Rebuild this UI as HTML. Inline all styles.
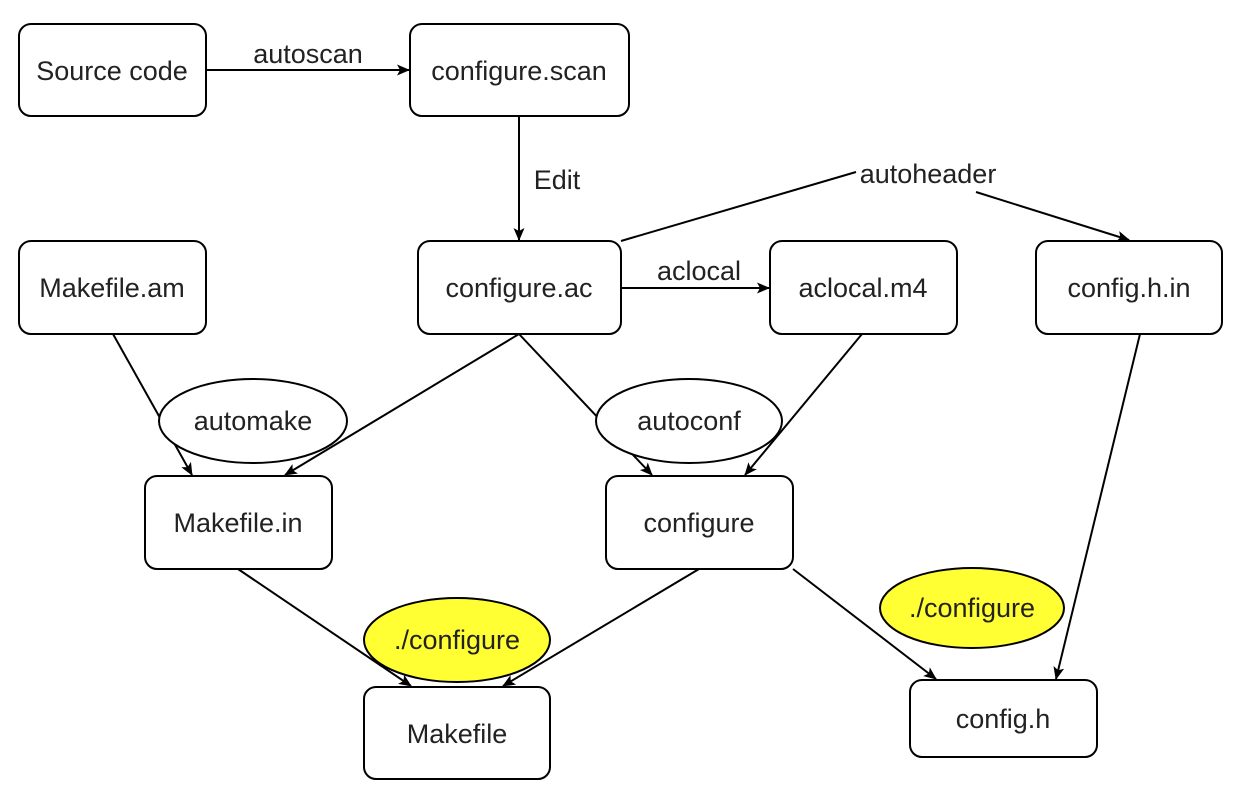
<!DOCTYPE html>
<html><head><meta charset="utf-8"><style>
html,body{margin:0;padding:0;background:#fff;}
svg{display:block;}
text{font-family:"Liberation Sans",Arial,sans-serif;font-size:27px;fill:#222;}
</style></head><body>
<svg width="1238" height="800" viewBox="0 0 1238 800" xmlns="http://www.w3.org/2000/svg">
<defs>
<marker id="a" markerWidth="13" markerHeight="11" refX="12" refY="5.5" orient="auto" markerUnits="userSpaceOnUse">
<path d="M0,0 L13,5.5 L0,11 L3,5.5 Z" fill="#000"/>
</marker>
</defs>
<g stroke="#000" stroke-width="2" fill="none">
<line x1="206" y1="70" x2="409" y2="70" marker-end="url(#a)"/>
<line x1="519" y1="116" x2="519" y2="240" marker-end="url(#a)"/>
<line x1="621" y1="241" x2="856" y2="172"/>
<line x1="976" y1="192" x2="1129" y2="240" marker-end="url(#a)"/>
<line x1="621" y1="288" x2="769" y2="288" marker-end="url(#a)"/>
<line x1="113" y1="334" x2="192" y2="475" marker-end="url(#a)"/>
<line x1="519" y1="334" x2="285" y2="475" marker-end="url(#a)"/>
<line x1="519" y1="334" x2="652" y2="475" marker-end="url(#a)"/>
<line x1="862" y1="334" x2="745" y2="475" marker-end="url(#a)"/>
<line x1="1140" y1="334" x2="1056" y2="679" marker-end="url(#a)"/>
<line x1="238" y1="569" x2="411" y2="686" marker-end="url(#a)"/>
<line x1="699" y1="569" x2="503" y2="686" marker-end="url(#a)"/>
<line x1="793" y1="569" x2="936" y2="679" marker-end="url(#a)"/>
</g>
<g stroke="#000" stroke-width="2" fill="#fff">
<rect x="19" y="24" width="187" height="92" rx="12"/>
<rect x="410" y="24" width="219" height="92" rx="12"/>
<rect x="19" y="241" width="187" height="93" rx="12"/>
<rect x="418" y="241" width="203" height="93" rx="12"/>
<rect x="770" y="241" width="187" height="93" rx="12"/>
<rect x="1036" y="241" width="186" height="93" rx="12"/>
<rect x="145" y="476" width="187" height="93" rx="12"/>
<rect x="606" y="476" width="187" height="93" rx="12"/>
<rect x="364" y="687" width="186" height="92" rx="12"/>
<rect x="910" y="680" width="187" height="77" rx="12"/>
<ellipse cx="253" cy="421" rx="94" ry="42"/>
<ellipse cx="689" cy="421" rx="93" ry="42"/>
<ellipse cx="457" cy="640" rx="93" ry="42" fill="#ffff33"/>
<ellipse cx="972" cy="608" rx="92" ry="40" fill="#ffff33"/>
</g>
<g text-anchor="middle">
<text x="112" y="80">Source code</text>
<text x="519" y="80">configure.scan</text>
<text x="112" y="297">Makefile.am</text>
<text x="519" y="297">configure.ac</text>
<text x="863" y="297">aclocal.m4</text>
<text x="1129" y="297">config.h.in</text>
<text x="238" y="532">Makefile.in</text>
<text x="699" y="532">configure</text>
<text x="457" y="743">Makefile</text>
<text x="1003" y="728">config.h</text>
<text x="253" y="430">automake</text>
<text x="689" y="430">autoconf</text>
<text x="457" y="649">./configure</text>
<text x="972" y="617">./configure</text>
<text x="308" y="63">autoscan</text>
<text x="557" y="189">Edit</text>
<text x="928" y="183">autoheader</text>
<text x="699" y="280">aclocal</text>
</g>
</svg>
</body></html>
